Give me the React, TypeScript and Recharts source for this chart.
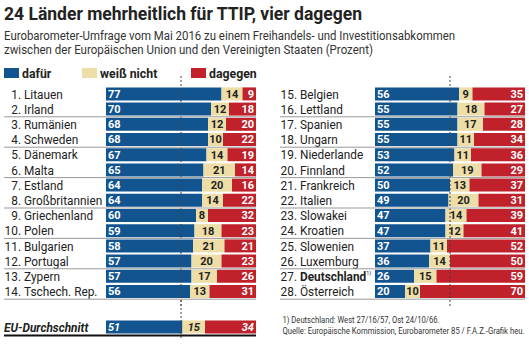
import React from "react";
import { BarChart, Bar, XAxis, YAxis, ReferenceLine, LabelList } from "recharts";

const FONT = 'Roboto, "Liberation Sans", "DejaVu Sans", sans-serif';
const BLUE = "#12548f";
const BEIGE = "#eddda6";
const RED = "#c0212a";
const INK = "#222";
const NARROW = 0.91;

const leftNames = [
  "1. Litauen", "2. Irland", "3. Rumänien", "4. Schweden", "5. Dänemark", "6. Malta", "7. Estland",
  "8. Großbritannien", "9. Griechenland", "10. Polen", "11. Bulgarien", "12. Portugal", "13. Zypern",
  "14. Tschech. Rep.",
];
const leftFor = [77, 70, 68, 68, 67, 65, 64, 64, 60, 59, 58, 57, 57, 56];
const leftUnsure = [14, 12, 12, 10, 14, 21, 20, 14, 8, 18, 21, 20, 17, 13];
const leftAgainst = [9, 18, 20, 22, 19, 14, 16, 22, 32, 23, 21, 23, 26, 31];

const rightNames = [
  "15. Belgien", "16. Lettland", "17. Spanien", "18. Ungarn", "19. Niederlande", "20. Finnland",
  "21. Frankreich", "22. Italien", "23. Slowakei", "24. Kroatien", "25. Slowenien", "26. Luxemburg",
  "27. Deutschland", "28. Österreich",
];
const rightFor = [56, 55, 55, 55, 53, 52, 50, 49, 47, 47, 37, 36, 26, 20];
const rightUnsure = [9, 18, 17, 11, 11, 19, 13, 20, 14, 12, 11, 14, 15, 10];
const rightAgainst = [35, 27, 28, 34, 36, 29, 37, 31, 39, 41, 52, 50, 59, 70];

const euName = "EU-Durchschnitt";
const euValues = [51, 15, 34];

const title = "24 Länder mehrheitlich für TTIP, vier dagegen";
const subtitle = [
  "Eurobarometer-Umfrage vom Mai 2016 zu einem Freihandels- und Investitionsabkommen",
  "zwischen der Europäischen Union und den Vereinigten Staaten (Prozent)",
];
const notes = [
  "1) Deutschland: West 27/16/57, Ost 24/10/66.",
  "Quelle: Europäische Kommission, Eurobarometer 85 / F.A.Z.-Grafik heu.",
];

const rows = (names: string[], a: number[], b: number[], c: number[]) =>
  names.map((name, i) => ({ name, dafuer: a[i], weiss: b[i], dagegen: c[i] }));

const leftData = rows(leftNames, leftFor, leftUnsure, leftAgainst);
const rightData = rows(rightNames, rightFor, rightUnsure, rightAgainst);
const euData = [{ name: euName, dafuer: euValues[0], weiss: euValues[1], dagegen: euValues[2] }];

// condensed look: the source uses a narrow grotesque, we squeeze Roboto a bit
function Squeeze({ k, children }: { k: number; children: React.ReactNode }) {
  return (
    <span style={{ display: "inline-block", transform: `scaleX(${k})`, transformOrigin: "0 0", whiteSpace: "nowrap" }}>
      {children}
    </span>
  );
}

function RowTick(props: any) {
  const { y, payload, index, numEnd, lineStart, lineEnd } = props;
  const label = String(payload.value);
  const sp = label.indexOf(" ");
  const num = label.slice(0, sp);
  const name = label.slice(sp + 1);
  const bold = name === "Deutschland";
  return (
    <g>
      <text
        transform={`translate(${numEnd},${y + 4.5}) scale(${NARROW},1)`}
        textAnchor="end"
        fontSize={13}
        fill={INK}
        fontFamily={FONT}
      >
        {num}
      </text>
      <text
        transform={`translate(${numEnd + 3},${y + 4.5}) scale(${NARROW},1)`}
        textAnchor="start"
        fontSize={13}
        fill={INK}
        fontFamily={FONT}
        fontWeight={bold ? 700 : 400}
      >
        {name}
        {bold && (
          <tspan fontSize={6} fontWeight={400} dy={-6}>
            1)
          </tspan>
        )}
      </text>
      {index % 2 === 1 && (
        <line x1={lineStart} x2={lineEnd} y1={y + 7.6} y2={y + 7.6} stroke="#999" strokeWidth={1} />
      )}
    </g>
  );
}

function EuTick(props: any) {
  const { y, payload } = props;
  return (
    <g>
      <text
        transform={`translate(4,${y + 4.5}) scale(${NARROW},1)`}
        fontSize={13}
        fontWeight={700}
        fontStyle="italic"
        fill={INK}
        fontFamily={FONT}
      >
        {payload.value}
      </text>
      <line x1={4} x2={256} y1={y + 8.5} y2={y + 8.5} stroke="#111" strokeWidth={2} />
    </g>
  );
}

function Segments({ italic }: { italic?: boolean }) {
  const lbl = { fontSize: 11, fontWeight: 700, fontFamily: FONT, fontStyle: italic ? "italic" : "normal" };
  return [
    <Bar key="a" dataKey="dafuer" stackId="s" fill={BLUE} barSize={13} isAnimationActive={false}>
      <LabelList dataKey="dafuer" position="insideLeft" offset={2} fill="#fff" {...lbl} />
    </Bar>,
    <Bar key="b" dataKey="weiss" stackId="s" fill={BEIGE} barSize={13} isAnimationActive={false}>
      <LabelList dataKey="weiss" position="center" fill={INK} {...lbl} />
    </Bar>,
    <Bar key="c" dataKey="dagegen" stackId="s" fill={RED} barSize={13} isAnimationActive={false}>
      <LabelList dataKey="dagegen" position="insideRight" offset={2} fill="#fff" {...lbl} />
    </Bar>,
  ];
}

function Panel({ data, axisWidth, right, numEnd, lineStart, lineEnd }: any) {
  return (
    <BarChart
      width={265}
      height={232}
      data={data}
      layout="vertical"
      margin={{ top: 0, right, bottom: 0, left: 0 }}
      barCategoryGap={2}
    >
      <XAxis type="number" domain={[0, 100]} hide allowDataOverflow />
      <YAxis
        type="category"
        dataKey="name"
        width={axisWidth}
        axisLine={false}
        tickLine={false}
        interval={0}
        padding={{ top: 12.4, bottom: 6.8 }}
        tick={<RowTick numEnd={numEnd} lineStart={lineStart} lineEnd={lineEnd} />}
      />
      {Segments({})}
      <ReferenceLine x={50} stroke="#444" strokeDasharray="2 2" />
    </BarChart>
  );
}

export default function App() {
  return (
    <div
      style={{
        position: "absolute",
        left: 0,
        top: 0,
        width: 529,
        height: 350,
        background: "#fff",
        fontFamily: FONT,
        color: INK,
        overflow: "hidden",
      }}
    >
      {/* headline, subline and source as svg text so the widths can be pinned */}
      <svg width={529} height={350} style={{ position: "absolute", left: 0, top: 0, pointerEvents: "none" }}>
        <text x={4} y={20} fontSize={18} fontWeight={700} fill={INK} fontFamily={FONT} textLength={358} lengthAdjust="spacingAndGlyphs">
          {title}
        </text>
        <text x={4} y={39.5} fontSize={12.5} fill="#333" fontFamily={FONT} textLength={451} lengthAdjust="spacingAndGlyphs">
          {subtitle[0]}
        </text>
        <text x={4} y={54} fontSize={12.5} fill="#333" fontFamily={FONT} textLength={369} lengthAdjust="spacingAndGlyphs">
          {subtitle[1]}
        </text>
        <text x={282.5} y={323.3} fontSize={9.5} fill="#333" fontFamily={FONT} textLength={157} lengthAdjust="spacingAndGlyphs">
          {notes[0]}
        </text>
        <text x={282.5} y={333.7} fontSize={9.5} fill="#333" fontFamily={FONT} textLength={242} lengthAdjust="spacingAndGlyphs">
          {notes[1]}
        </text>
      </svg>
      {[
        { c: BLUE, t: "dafür", x: 4 },
        { c: BEIGE, t: "weiß nicht", x: 82 },
        { c: RED, t: "dagegen", x: 191 },
      ].map((l) => (
        <div key={l.t} style={{ position: "absolute", left: l.x, top: 65, height: 16, display: "flex", alignItems: "center" }}>
          <span style={{ display: "inline-block", width: 15, height: 10, background: l.c, marginRight: 3 }} />
          <span style={{ fontSize: 13.5, fontWeight: 700, lineHeight: "16px" }}>
            <Squeeze k={NARROW}>{l.t}</Squeeze>
          </span>
        </div>
      ))}
      <div style={{ position: "absolute", left: 0, top: 74 }}>
        <Panel data={leftData} axisWidth={106} right={9} numEnd={21} lineStart={4} lineEnd={256} />
      </div>
      <div style={{ position: "absolute", left: 264, top: 74 }}>
        <Panel data={rightData} axisWidth={111} right={4} numEnd={33} lineStart={16} lineEnd={261} />
      </div>
      <div style={{ position: "absolute", left: 0, top: 299 }}>
        <BarChart width={265} height={39} data={euData} layout="vertical" margin={{ top: 0, right: 9, bottom: 0, left: 0 }}>
          <XAxis type="number" domain={[0, 100]} hide allowDataOverflow />
          <YAxis
            type="category"
            dataKey="name"
            width={106}
            axisLine={false}
            tickLine={false}
            padding={{ top: 20.4, bottom: 3.4 }}
            tick={<EuTick />}
          />
          {Segments({ italic: true })}
          <ReferenceLine x={50} stroke="#444" strokeDasharray="2 2" />
        </BarChart>
      </div>
    </div>
  );
}
